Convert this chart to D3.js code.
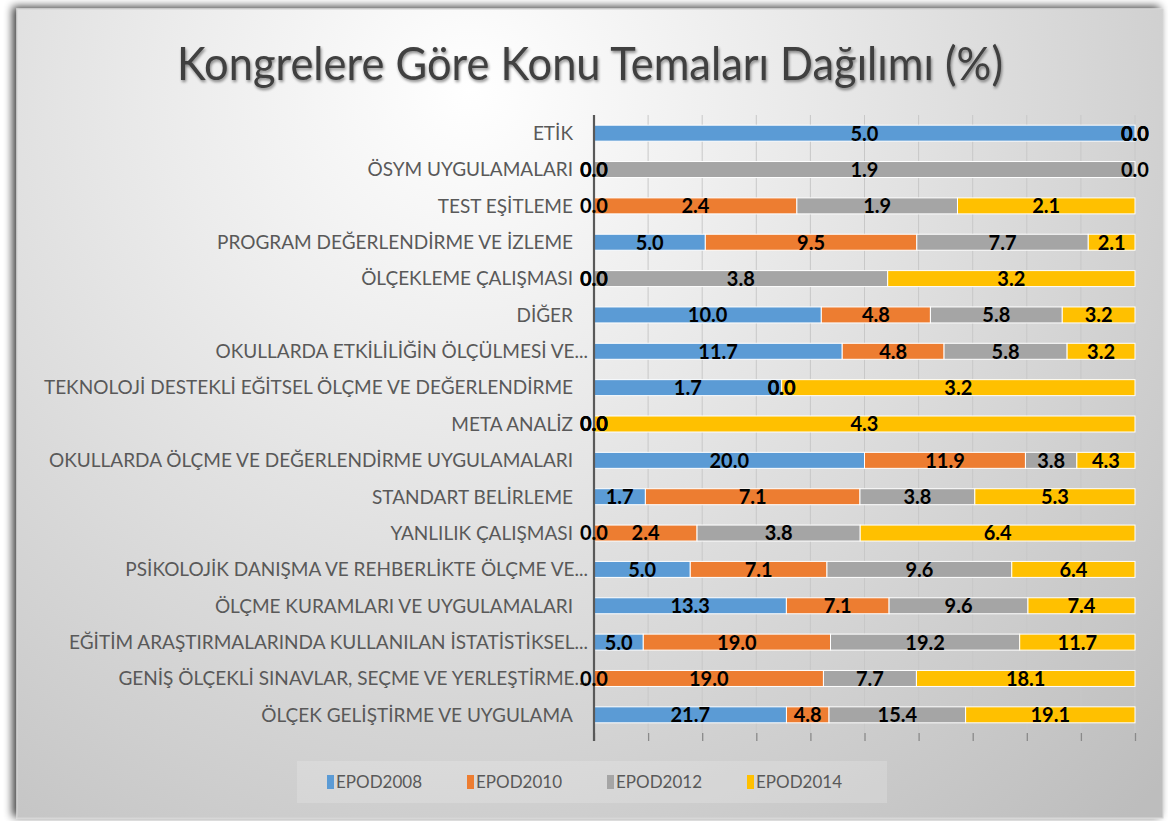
<!DOCTYPE html>
<html><head><meta charset="utf-8">
<script src="https://cdn.jsdelivr.net/npm/d3@7"></script>
<style>html,body{margin:0;padding:0;background:#fff;}svg{display:block;}</style>
</head><body>
<svg id="chart" width="1168" height="821"></svg>
<script>
const title = "Kongrelere Göre Konu Temaları Dağılımı (%)";
const categories = [
  "ETİK",
  "ÖSYM UYGULAMALARI",
  "TEST EŞİTLEME",
  "PROGRAM DEĞERLENDİRME VE İZLEME",
  "ÖLÇEKLEME ÇALIŞMASI",
  "DİĞER",
  "OKULLARDA ETKİLİLİĞİN ÖLÇÜLMESİ VE...",
  "TEKNOLOJİ DESTEKLİ EĞİTSEL ÖLÇME VE DEĞERLENDİRME",
  "META ANALİZ",
  "OKULLARDA ÖLÇME VE DEĞERLENDİRME UYGULAMALARI",
  "STANDART BELİRLEME",
  "YANLILIK ÇALIŞMASI",
  "PSİKOLOJİK DANIŞMA VE REHBERLİKTE ÖLÇME VE...",
  "ÖLÇME KURAMLARI VE UYGULAMALARI",
  "EĞİTİM ARAŞTIRMALARINDA KULLANILAN İSTATİSTİKSEL...",
  "GENİŞ ÖLÇEKLİ SINAVLAR, SEÇME VE YERLEŞTİRME...",
  "ÖLÇEK GELİŞTİRME VE UYGULAMA"
];
const seriesNames = ["EPOD2008", "EPOD2010", "EPOD2012", "EPOD2014"];
const epod2008 = [5.0, 0.0, 0.0, 5.0, 0.0, 10.0, 11.7, 1.7, 0.0, 20.0, 1.7, 0.0, 5.0, 13.3, 5.0, 0.0, 21.7];
const epod2010 = [0.0, 0.0, 2.4, 9.5, 0.0, 4.8, 4.8, 0.0, 0.0, 11.9, 7.1, 2.4, 7.1, 7.1, 19.0, 19.0, 4.8];
const epod2012 = [0.0, 1.9, 1.9, 7.7, 3.8, 5.8, 5.8, 0.0, 0.0, 3.8, 3.8, 3.8, 9.6, 9.6, 19.2, 7.7, 15.4];
const epod2014 = [0.0, 0.0, 2.1, 2.1, 3.2, 3.2, 3.2, 3.2, 4.3, 4.3, 5.3, 6.4, 6.4, 7.4, 11.7, 18.1, 19.1];
const xTicks = [0, 0.1, 0.2, 0.3, 0.4, 0.5, 0.6, 0.7, 0.8, 0.9, 1.0];
const colors = ["#5B9BD5", "#ED7D31", "#A5A5A5", "#FFC000"];

const seriesValues = [epod2008, epod2010, epod2012, epod2014];
const rows = categories.map((c, i) => {
  const r = {cat: c};
  seriesNames.forEach((s, j) => r[s] = seriesValues[j][i]);
  return r;
});

const svg = d3.select("#chart");
const W = 1168, H = 821;
const defs = svg.append("defs");

const grad = defs.append("radialGradient").attr("id", "bg")
  .attr("gradientUnits", "userSpaceOnUse")
  .attr("cx", 470).attr("cy", 90).attr("r", 980);
grad.append("stop").attr("offset", "0%").attr("stop-color", "#ffffff");
grad.append("stop").attr("offset", "30%").attr("stop-color", "#ececec");
grad.append("stop").attr("offset", "100%").attr("stop-color", "#bdbdbd");

const sh = defs.append("filter").attr("id", "shadow").attr("x", "-3%").attr("y", "-3%").attr("width", "106%").attr("height", "106%");
sh.append("feGaussianBlur").attr("in", "SourceAlpha").attr("stdDeviation", 4);
sh.append("feOffset").attr("dx", -4).attr("dy", -2).attr("result", "b");
sh.append("feComponentTransfer").attr("in", "b").attr("result", "b2")
  .append("feFuncA").attr("type", "linear").attr("slope", 0.75);
const mg = sh.append("feMerge");
mg.append("feMergeNode").attr("in", "b2");
mg.append("feMergeNode").attr("in", "SourceGraphic");

const ts = defs.append("filter").attr("id", "tshadow").attr("x", "-5%").attr("y", "-20%").attr("width", "110%").attr("height", "150%");
ts.append("feGaussianBlur").attr("in", "SourceAlpha").attr("stdDeviation", 1.5);
ts.append("feOffset").attr("dx", 1).attr("dy", 2).attr("result", "ob");
ts.append("feComponentTransfer").attr("in", "ob").attr("result", "ob2")
  .append("feFuncA").attr("type", "linear").attr("slope", 0.45);
const tm = ts.append("feMerge");
tm.append("feMergeNode").attr("in", "ob2");
tm.append("feMergeNode").attr("in", "SourceGraphic");

svg.append("rect").attr("width", W).attr("height", H).attr("fill", "#ffffff");
svg.append("rect").attr("x", 17).attr("y", 9).attr("width", 1146).attr("height", 809)
  .attr("fill", "url(#bg)").attr("stroke", "#d4d4d4").attr("stroke-width", 1.2)
  .attr("filter", "url(#shadow)");

svg.append("text").attr("x", 590).attr("y", 80).attr("text-anchor", "middle")
  .attr("font-family", "Lato, 'Open Sans', sans-serif").attr("font-size", 46)
  .attr("fill", "#404040").attr("textLength", 826).attr("lengthAdjust", "spacingAndGlyphs")
  .attr("filter", "url(#tshadow)")
  .text(title);

const pLeft = 594, pRight = 1135, pTop = 115, pBottom = 733;
const x = d3.scaleLinear().domain([0, 1]).range([pLeft, pRight]);
const y = d3.scaleBand().domain(categories).range([pTop, pBottom]).paddingInner(0.56).paddingOuter(0.28);

// gridlines
svg.append("g").selectAll("line").data(xTicks.slice(1)).join("line")
  .attr("x1", d => x(d)).attr("x2", d => x(d)).attr("y1", pTop).attr("y2", pBottom)
  .attr("stroke", "#c8c8c8").attr("stroke-width", 1);

// x axis (ticks only, no labels)
const xAxis = svg.append("g").attr("transform", `translate(0,${pBottom})`)
  .call(d3.axisBottom(x).tickValues(xTicks).tickSize(8).tickFormat(""));
xAxis.select(".domain").remove();
xAxis.selectAll(".tick line").attr("stroke", "#8a8a8a").attr("stroke-width", 1.3);

const stack = d3.stack().keys(seriesNames).offset(d3.stackOffsetExpand);
const stacked = stack(rows);

const g = svg.append("g");
stacked.forEach((layer, j) => {
  g.append("g").selectAll("rect").data(layer).join("rect")
    .attr("x", d => x(d[0])).attr("width", d => Math.max(0, x(d[1]) - x(d[0])))
    .attr("y", d => y(d.data.cat)).attr("height", y.bandwidth())
    .attr("fill", colors[j]).attr("stroke", "#ffffff").attr("stroke-width", 1);
});

// y axis line
svg.append("line").attr("x1", pLeft).attr("x2", pLeft).attr("y1", pTop).attr("y2", pBottom + 8)
  .attr("stroke", "#595959").attr("stroke-width", 2.2);

// category labels
svg.append("g").selectAll("text").data(categories).join("text")
  .attr("x", d => d.endsWith("...") ? 588 : 573)
  .attr("y", d => y(d) + y.bandwidth() / 2).attr("dy", "0.36em")
  .attr("text-anchor", "end")
  .attr("font-family", "Lato, 'Open Sans', sans-serif").attr("font-size", 19)
  .attr("fill", "#595959")
  .text(d => d);

// data labels
const lg = svg.append("g");
stacked.forEach((layer, j) => {
  lg.append("g").selectAll("text").data(layer).join("text")
    .attr("x", d => x((d[0] + d[1]) / 2))
    .attr("y", d => y(d.data.cat) + y.bandwidth() / 2).attr("dy", "0.37em")
    .attr("text-anchor", "middle")
    .attr("font-family", "Lato, 'Open Sans', sans-serif").attr("font-size", 20).attr("font-weight", "bold")
    .attr("fill", "#000000")
    .text(d => d.data[seriesNames[j]].toFixed(1));
});

// legend
const legendX = [327, 467, 607, 747];
const leg = svg.append("g");
leg.append("rect").attr("x", 297).attr("y", 761).attr("width", 590).attr("height", 42)
  .attr("fill", "#ffffff").attr("fill-opacity", 0.18);
seriesNames.forEach((s, j) => {
  leg.append("rect").attr("x", legendX[j]).attr("y", 775).attr("width", 7).attr("height", 14)
    .attr("fill", colors[j]);
  leg.append("text").attr("x", legendX[j] + 9).attr("y", 782).attr("dy", "0.36em")
    .attr("font-family", "Lato, 'Open Sans', sans-serif").attr("font-size", 17)
    .attr("fill", "#595959").text(s);
});
</script>
</body></html>
